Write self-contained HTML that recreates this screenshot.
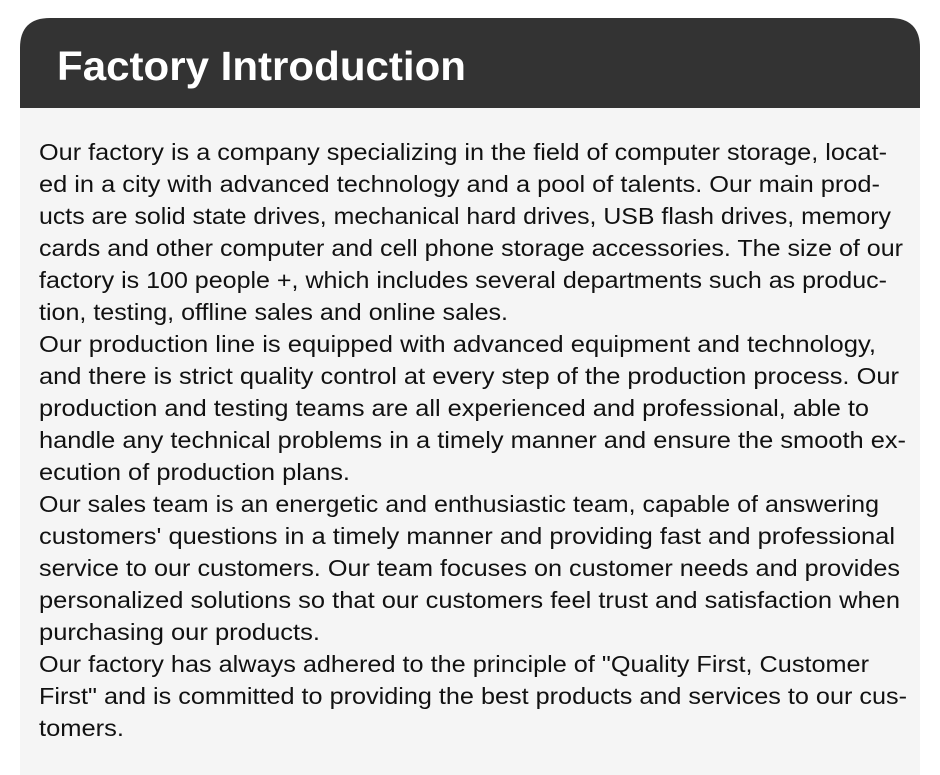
<!DOCTYPE html>
<html><head><meta charset="utf-8"><style>
html,body{margin:0;padding:0;background:#fff;width:940px;height:775px;overflow:hidden}
</style></head><body>
<svg width="940" height="775" xmlns="http://www.w3.org/2000/svg">
<path d="M20 108 V48 Q20 18 50 18 H890 Q920 18 920 48 V108 Z" fill="#333333"/>
<rect x="20" y="108" width="900" height="667" fill="#f5f5f5"/>
<text x="57" y="80" fill="#fff" font-family="Liberation Sans, sans-serif" font-weight="bold" font-size="41" textLength="409" lengthAdjust="spacingAndGlyphs">Factory Introduction</text>
<g font-family="Liberation Sans, sans-serif" font-size="23" fill="#111">
<text x="39" y="160" textLength="848" lengthAdjust="spacingAndGlyphs">Our factory is a company specializing in the field of computer storage, locat-</text>
<text x="39" y="192" textLength="841" lengthAdjust="spacingAndGlyphs">ed in a city with advanced technology and a pool of talents. Our main prod-</text>
<text x="39" y="224" textLength="852" lengthAdjust="spacingAndGlyphs">ucts are solid state drives, mechanical hard drives, USB flash drives, memory</text>
<text x="39" y="256" textLength="864" lengthAdjust="spacingAndGlyphs">cards and other computer and cell phone storage accessories. The size of our</text>
<text x="39" y="288" textLength="848" lengthAdjust="spacingAndGlyphs">factory is 100 people +, which includes several departments such as produc-</text>
<text x="39" y="320" textLength="469" lengthAdjust="spacingAndGlyphs">tion, testing, offline sales and online sales.</text>
<text x="39" y="352" textLength="837" lengthAdjust="spacingAndGlyphs">Our production line is equipped with advanced equipment and technology,</text>
<text x="39" y="384" textLength="860" lengthAdjust="spacingAndGlyphs">and there is strict quality control at every step of the production process. Our</text>
<text x="39" y="416" textLength="830" lengthAdjust="spacingAndGlyphs">production and testing teams are all experienced and professional, able to</text>
<text x="39" y="448" textLength="867" lengthAdjust="spacingAndGlyphs">handle any technical problems in a timely manner and ensure the smooth ex-</text>
<text x="39" y="480" textLength="311" lengthAdjust="spacingAndGlyphs">ecution of production plans.</text>
<text x="39" y="512" textLength="840" lengthAdjust="spacingAndGlyphs">Our sales team is an energetic and enthusiastic team, capable of answering</text>
<text x="39" y="544" textLength="856" lengthAdjust="spacingAndGlyphs">customers' questions in a timely manner and providing fast and professional</text>
<text x="39" y="576" textLength="861" lengthAdjust="spacingAndGlyphs">service to our customers. Our team focuses on customer needs and provides</text>
<text x="39" y="608" textLength="861" lengthAdjust="spacingAndGlyphs">personalized solutions so that our customers feel trust and satisfaction when</text>
<text x="39" y="640" textLength="281" lengthAdjust="spacingAndGlyphs">purchasing our products.</text>
<text x="39" y="672" textLength="830" lengthAdjust="spacingAndGlyphs">Our factory has always adhered to the principle of "Quality First, Customer</text>
<text x="39" y="704" textLength="868" lengthAdjust="spacingAndGlyphs">First" and is committed to providing the best products and services to our cus-</text>
<text x="39" y="736" textLength="85" lengthAdjust="spacingAndGlyphs">tomers.</text>
</g>
</svg>
</body></html>
